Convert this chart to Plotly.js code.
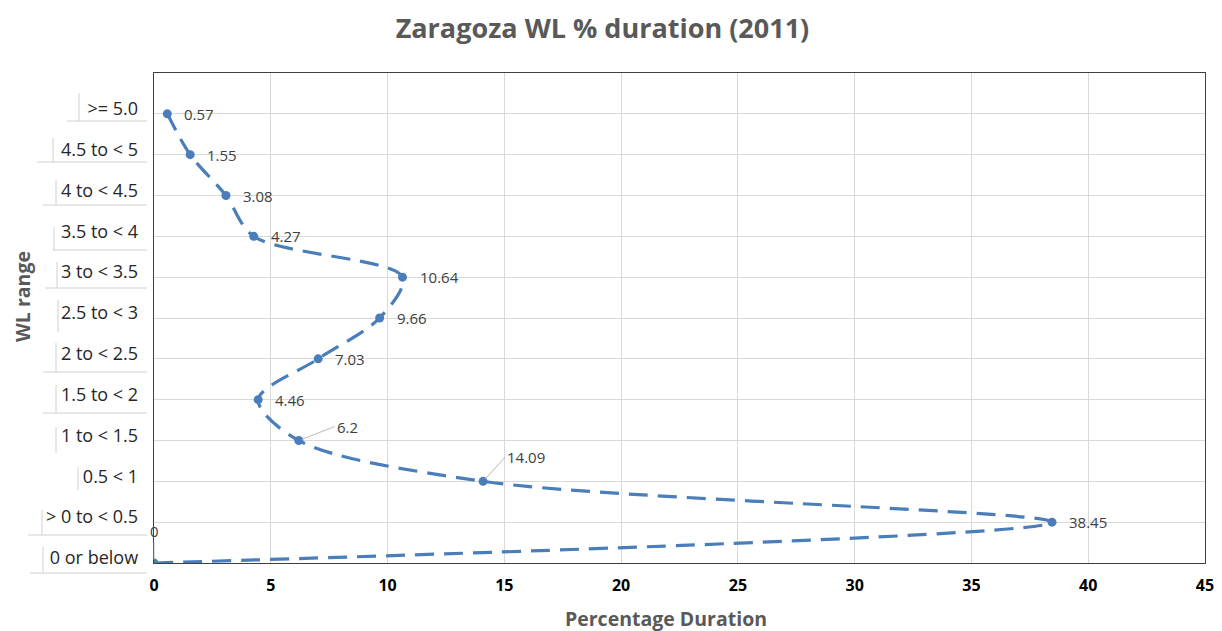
<!DOCTYPE html>
<html>
<head>
<meta charset="utf-8">
<script src="https://cdn.plot.ly/plotly-3.0.1.min.js"></script>
<style>html,body{margin:0;padding:0;background:#fff;}#chart{width:1222px;height:631px;}</style>
</head>
<body>
<div id="chart"></div>
<script>
// ---- data ----
const wlRanges = ["0 or below", "> 0 to < 0.5", "0.5 < 1", "1 to < 1.5", "1.5 to < 2", "2 to < 2.5",
                  "2.5 to < 3", "3 to < 3.5", "3.5 to < 4", "4 to < 4.5", "4.5 to < 5", ">= 5.0"];
const rangeIndex = [0, 1, 2, 3, 4, 5, 6, 7, 8, 9, 10, 11];
const pctDuration = [0, 38.45, 14.09, 6.2, 4.46, 7.03, 9.66, 10.64, 4.27, 3.08, 1.55, 0.57];
const xTicks = [0, 5, 10, 15, 20, 25, 30, 35, 40, 45];

const blue = '#4a7ebb';
const plotLeft = 154, plotRight = 1205, plotTop = 73, plotBottom = 563, H = 631;
const pxToPaper = p => (p - plotLeft) / (plotRight - plotLeft);
const pyToPaper = p => (plotBottom - p) / (plotBottom - plotTop);

const trace = {
  x: pctDuration, y: rangeIndex, type: 'scatter', mode: 'lines+markers',
  line: {shape: 'spline', smoothing: 0.9, color: blue, width: 3.2, dash: '19px,10px'},
  marker: {color: blue, size: 9},
  hoverinfo: 'x+y', showlegend: false
};

// data labels
const leader = {3: [36, -14], 2: [22, -24], 0: [0, -32]};
const annotations = pctDuration.map((v, i) => {
  const a = {x: v, y: rangeIndex[i], text: String(v), font: {family: 'Open Sans, sans-serif', size: 15, color: '#404040'}};
  if (leader[i]) {
    Object.assign(a, {showarrow: true, arrowhead: 0, arrowwidth: 0.8, arrowcolor: '#a6a6a6',
      ax: leader[i][0], ay: leader[i][1], xanchor: i === 0 ? 'center' : 'left', standoff: 3});
  } else {
    Object.assign(a, {showarrow: false, xanchor: 'left', xshift: 15});
  }
  return a;
});

annotations.push({xref: 'paper', yref: 'paper', x: pxToPaper(666), y: pyToPaper(618), showarrow: false,
  text: 'Percentage Duration', xanchor: 'center', yanchor: 'middle',
  font: {family: 'Open Sans, sans-serif', size: 19.5, color: '#595959', weight: 'bold'}});
annotations.push({xref: 'paper', yref: 'paper', x: pxToPaper(22), y: pyToPaper(297), showarrow: false,
  text: 'WL range', textangle: -90, xanchor: 'center', yanchor: 'middle',
  font: {family: 'Open Sans, sans-serif', size: 19.5, color: '#595959', weight: 'bold'}});

// cell-border decorations beside the y labels (pixel x of left border, pixel y top/bottom)
const cellDeco = [
  [43, 547, 573], [42, 510, 535], [78, 467, 490], [56, 427, 453], [56, 385, 413], [56, 343, 372],
  [58, 300, 332], [57, 262, 288], [54, 227, 250], [56, 180, 205], [53, 138, 162], [79, 93, 121]
];
const lineLeft = [30, 28, null, null, 43, 43, null, 45, 53, 43, 37, 67];
const shapes = [];
cellDeco.forEach((d, i) => {
  shapes.push({type: 'line', xref: 'paper', yref: 'paper', x0: pxToPaper(d[0]), x1: pxToPaper(d[0]),
    y0: pyToPaper(d[1]), y1: pyToPaper(d[2]), line: {color: '#d0d0d0', width: 1}});
  if (lineLeft[i] !== null) {
    shapes.push({type: 'line', xref: 'paper', yref: 'paper', x0: pxToPaper(lineLeft[i]), x1: pxToPaper(147),
      y0: pyToPaper(d[2]), y1: pyToPaper(d[2]), line: {color: '#d0d0d0', width: 1}});
  }
});

const layout = {
  width: 1222, height: 631,
  margin: {l: plotLeft, r: 1222 - plotRight, t: plotTop, b: H - plotBottom},
  paper_bgcolor: '#fff', plot_bgcolor: '#fff',
  title: {text: 'Zaragoza WL % duration (2011)', x: 0.493, xanchor: 'center', y: 0.955, yanchor: 'middle',
    font: {family: 'Open Sans, sans-serif', size: 27, color: '#595959', weight: 'bold'}},
  xaxis: {
    range: [0, 45], tickvals: xTicks, ticktext: xTicks.map(String),
    showgrid: true, gridcolor: '#d9d9d9', gridwidth: 1, zeroline: false,
    showline: true, linecolor: '#404040', linewidth: 1.3, mirror: true, ticks: '',
    ticklabelstandoff: 7,
    tickfont: {family: 'Open Sans, sans-serif', size: 16, color: '#000', weight: 'bold'}
  },
  yaxis: {
    range: [0, 12], tickvals: rangeIndex, ticktext: wlRanges,
    showgrid: true, gridcolor: '#d9d9d9', gridwidth: 1, zeroline: false,
    showline: true, linecolor: '#404040', linewidth: 1.3, mirror: true, ticks: '',
    ticklabelstandoff: 11, ticklabelshift: -5,
    tickfont: {family: 'Open Sans, sans-serif', size: 18, color: '#262626'}
  },
  annotations: annotations,
  shapes: shapes,
  font: {family: 'Open Sans, sans-serif'}
};

Plotly.newPlot('chart', [trace], layout, {displayModeBar: false, staticPlot: true});
</script>
</body>
</html>
